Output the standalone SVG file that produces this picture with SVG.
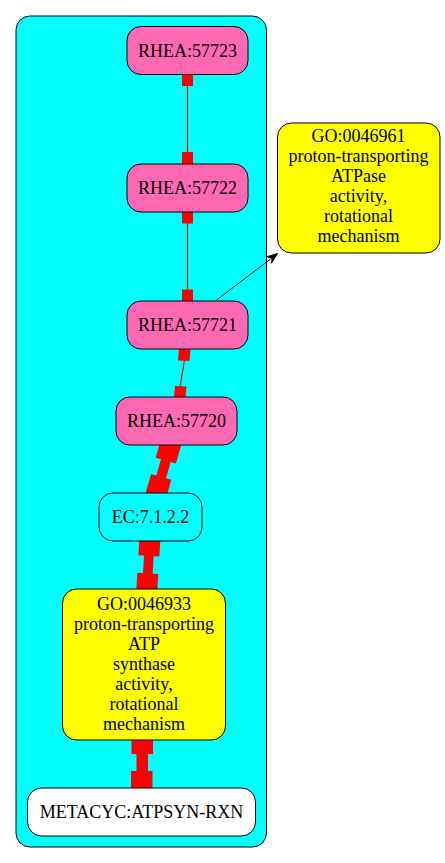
<svg xmlns="http://www.w3.org/2000/svg" width="445" height="863" viewBox="0 0 445 863">
<style>
  .node rect { stroke: #000; stroke-width: 1; }
  .rhea { fill: #ff69b4; }
  .go { fill: #ffff00; }
  .ec { fill: #00ffff; }
  .white { fill: #ffffff; }
  text { font-family: "Liberation Serif", "Times New Roman", serif; font-size: 18px; fill: #000; text-anchor: middle; }
  .red { fill: #ff0000; }
  .redline { stroke: #ff0000; stroke-width: 1.2; fill: none; }
</style>
<rect width="445" height="863" fill="#ffffff"/>
<g id="cluster">
  <rect x="16" y="16" width="250.5" height="831" rx="14" ry="14" fill="#00ffff" stroke="#000" stroke-width="1"/>
</g>
<g id="connectors">
  <!-- RHEA:57723 -> RHEA:57722 -->
  <line class="redline" x1="187.5" y1="86" x2="187.5" y2="152"/>
  <rect class="red" x="182" y="74" width="11" height="12"/>
  <rect class="red" x="182" y="152" width="11" height="12"/>
  <!-- RHEA:57722 -> RHEA:57721 -->
  <line class="redline" x1="187.5" y1="223" x2="187.5" y2="289"/>
  <rect class="red" x="182" y="212" width="11" height="11.5"/>
  <rect class="red" x="182" y="289.5" width="11" height="11.5"/>
  <!-- RHEA:57721 -> RHEA:57720 -->
  <line class="redline" x1="184.5" y1="360" x2="180" y2="387"/>
  <polygon class="red" points="179,349 190.5,349.5 189.5,361 178,360.5"/>
  <polygon class="red" points="175,386 186.5,386.5 185.5,397.5 174,397"/>
  <!-- RHEA:57720 -> EC:7.1.2.2 (thick) -->
  <g transform="translate(168.7,450.5) rotate(15.9)">
    <rect class="red" x="-10.5" y="-10.5" width="21" height="21"/>
    <rect class="red" x="-5" y="10" width="10" height="18"/>
    <rect class="red" x="-10.5" y="27.5" width="21" height="21"/>
  </g>
  <!-- EC:7.1.2.2 -> GO:0046933 (thick) -->
  <g transform="translate(149.5,545.5) rotate(3.5)">
    <rect class="red" x="-10.5" y="-9.5" width="21" height="20"/>
    <rect class="red" x="-4.8" y="10" width="9.6" height="19"/>
    <rect class="red" x="-10.5" y="28" width="21" height="21"/>
  </g>
  <!-- GO:0046933 -> METACYC:ATPSYN-RXN (thick) -->
  <rect class="red" x="131.5" y="735" width="21.5" height="19"/>
  <rect class="red" x="136.5" y="753" width="11.5" height="19"/>
  <rect class="red" x="131" y="771" width="21.5" height="21.5"/>
  <!-- RHEA:57721 -> GO:0046961 -->
  <line x1="216.5" y1="300" x2="272.2" y2="257.8" stroke="#000" stroke-width="1"/>
  <polygon points="277.5,253.5 271.4,263.2 272.4,257.8 266.6,256.8" fill="#000" stroke="#000" stroke-width="1"/>
</g>
<g id="RHEA_57723" class="node">
  <rect class="rhea" x="127" y="26.5" width="121" height="48" rx="14" ry="14"/>
  <text x="187.5" y="56.5">RHEA:57723</text>
</g>
<g id="RHEA_57722" class="node">
  <rect class="rhea" x="127" y="164" width="121" height="48" rx="14" ry="14"/>
  <text x="187.5" y="194">RHEA:57722</text>
</g>
<g id="RHEA_57721" class="node">
  <rect class="rhea" x="127" y="301" width="121" height="48" rx="14" ry="14"/>
  <text x="187.5" y="331">RHEA:57721</text>
</g>
<g id="RHEA_57720" class="node">
  <rect class="rhea" x="116" y="397" width="121" height="48" rx="14" ry="14"/>
  <text x="176.5" y="427">RHEA:57720</text>
</g>
<g id="EC_7.1.2.2" class="node">
  <rect class="ec" x="99" y="493" width="103" height="48" rx="14" ry="14"/>
  <text x="150.5" y="523">EC:7.1.2.2</text>
</g>
<g id="GO_0046933" class="node">
  <rect class="go" x="62.5" y="589" width="163" height="151" rx="14" ry="14"/>
  <text x="144" y="610">GO:0046933</text>
  <text x="144" y="630">proton-transporting</text>
  <text x="144" y="650">ATP</text>
  <text x="144" y="670">synthase</text>
  <text x="144" y="690">activity,</text>
  <text x="144" y="710">rotational</text>
  <text x="144" y="730">mechanism</text>
</g>
<g id="METACYC_ATPSYN-RXN" class="node">
  <rect class="white" x="27.5" y="788" width="228" height="48" rx="14" ry="14"/>
  <text x="141.5" y="818">METACYC:ATPSYN-RXN</text>
</g>
<g id="GO_0046961" class="node">
  <rect class="go" x="277.5" y="123" width="162.5" height="130" rx="14" ry="14"/>
  <text x="358.5" y="142">GO:0046961</text>
  <text x="358.5" y="162">proton-transporting</text>
  <text x="358.5" y="182">ATPase</text>
  <text x="358.5" y="202">activity,</text>
  <text x="358.5" y="222">rotational</text>
  <text x="358.5" y="242">mechanism</text>
</g>
</svg>
